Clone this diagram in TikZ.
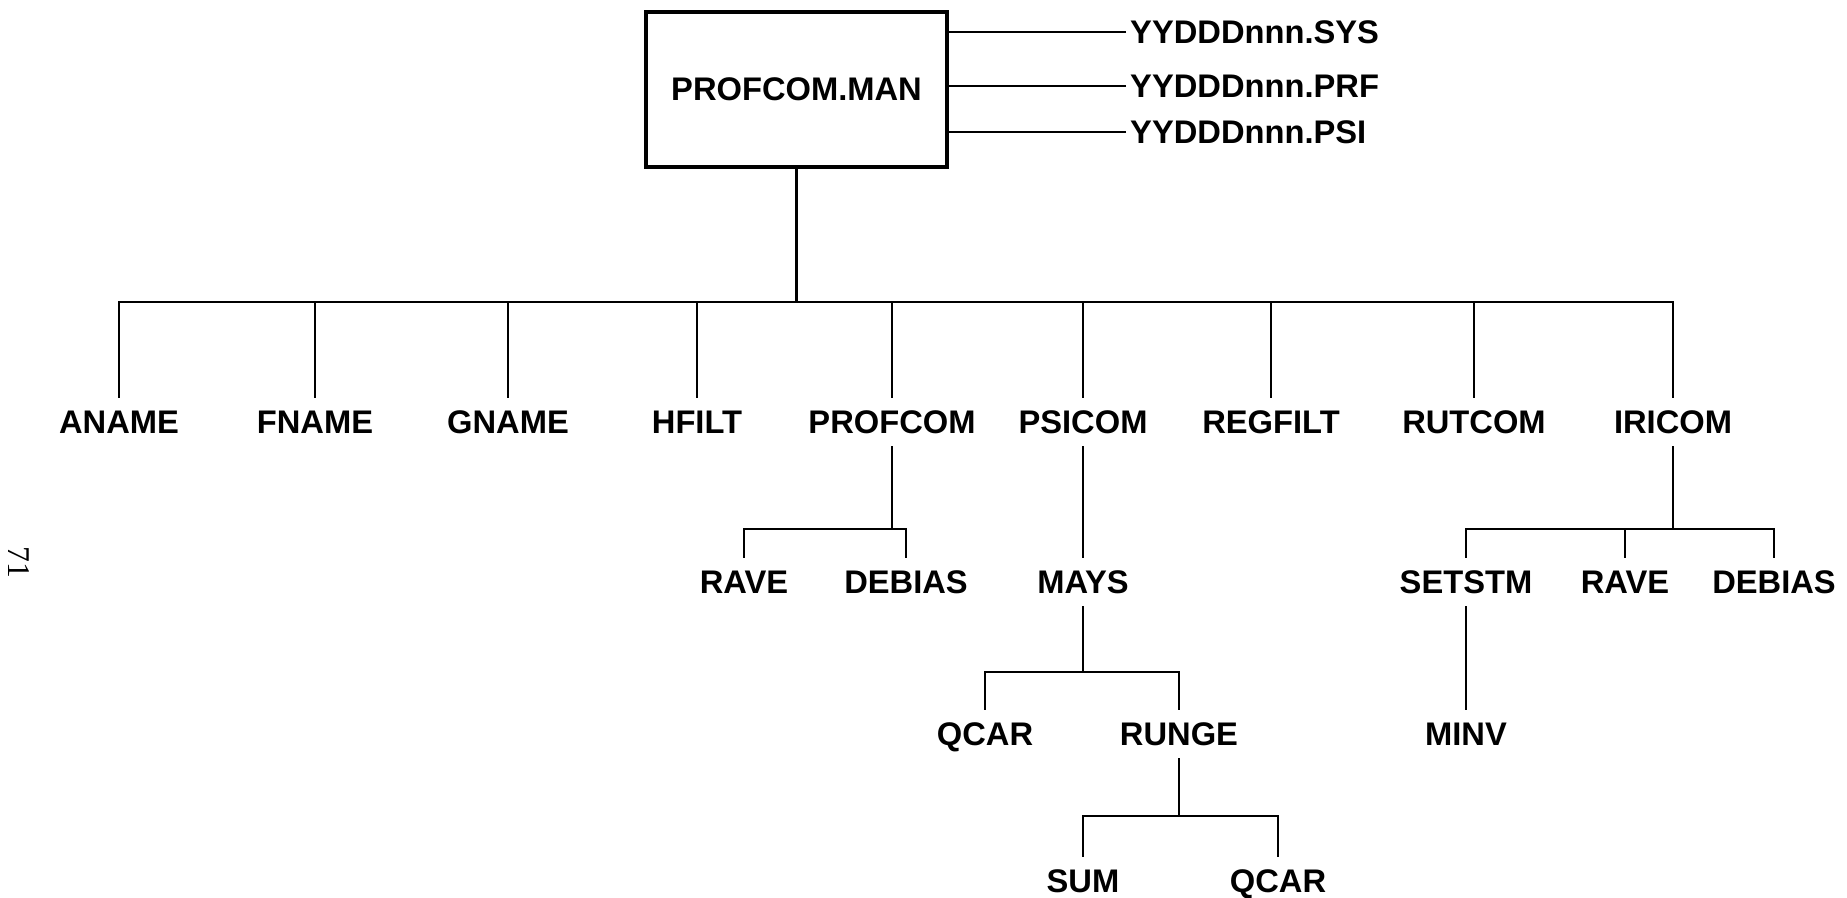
\documentclass[tikz,border=0pt]{standalone}
\usepackage{fontspec}
\setmainfont{Liberation Sans}
\newfontfamily\pagefont{Liberation Serif}

\begin{document}
\begin{tikzpicture}[
        every node/.style={font=\fontsize{9.3}{11}\selectfont\bfseries},
        module/.style={inner xsep=2pt, inner ysep=3.4pt, text height=6.7pt, text depth=0pt},
        mainbox/.style={rectangle, draw=black, line width=1.3pt, minimum width=3.01cm, minimum height=1.55cm},
        outfile/.style={anchor=west, inner sep=1pt},
        link/.style={draw=black, line width=0.8pt}
        ]

        % Page frame
        \useasboundingbox (0,0) rectangle (18.47,-8.98);

        % Main program and its output files
        \node[mainbox] (man) at (7.965,-0.895) {PROFCOM.MAN};
        \node[outfile] (sys) at (11.26,-0.32) {YYDDDnnn.SYS};
        \node[outfile] (prf) at (11.26,-0.86) {YYDDDnnn.PRF};
        \node[outfile] (psi) at (11.26,-1.32) {YYDDDnnn.PSI};

        % First level routines
        \node[module] (aname) at (1.19,-4.22) {ANAME};
        \node[module] (fname) at (3.15,-4.22) {FNAME};
        \node[module] (gname) at (5.08,-4.22) {GNAME};
        \node[module] (hfilt) at (6.97,-4.22) {HFILT};
        \node[module] (profcom) at (8.92,-4.22) {PROFCOM};
        \node[module] (psicom) at (10.83,-4.22) {PSICOM};
        \node[module] (regfilt) at (12.71,-4.22) {REGFILT};
        \node[module] (rutcom) at (14.74,-4.22) {RUTCOM};
        \node[module] (iricom) at (16.73,-4.22) {IRICOM};

        % Second level routines
        \node[module] (rave1) at (7.44,-5.82) {RAVE};
        \node[module] (debias1) at (9.06,-5.82) {DEBIAS};
        \node[module] (mays) at (10.83,-5.82) {MAYS};
        \node[module] (setstm) at (14.66,-5.82) {SETSTM};
        \node[module] (rave2) at (16.25,-5.82) {RAVE};
        \node[module] (debias2) at (17.74,-5.82) {DEBIAS};

        % Third and fourth level routines
        \node[module] (qcar1) at (9.85,-7.34) {QCAR};
        \node[module] (runge) at (11.79,-7.34) {RUNGE};
        \node[module] (minv) at (14.66,-7.34) {MINV};
        \node[module] (sum) at (10.83,-8.81) {SUM};
        \node[module] (qcar2) at (12.78,-8.81) {QCAR};

        % Page number
        \node[font=\fontsize{9}{10}\selectfont\pagefont, rotate=-90] (pagenum) at (0.19,-5.62) {71};

        % Branch points
        \coordinate (b1) at (7.965,-3.02);
        \coordinate (b2) at (8.92,-5.29);
        \coordinate (b3) at (16.73,-5.29);
        \coordinate (b4) at (10.83,-6.72);
        \coordinate (b5) at (11.79,-8.16);

        % Output file lines
        \draw[link] (sys.west) -- (sys.west -| man.east);
        \draw[link] (prf.west) -- (prf.west -| man.east);
        \draw[link] (psi.west) -- (psi.west -| man.east);

        % Main program to first level
        \draw[link] (man.south) -- (b1);
        \draw[link] (aname.north) |- (b1);
        \draw[link] (fname.north) |- (b1);
        \draw[link] (gname.north) |- (b1);
        \draw[link] (hfilt.north) |- (b1);
        \draw[link] (profcom.north) |- (b1);
        \draw[link] (psicom.north) |- (b1);
        \draw[link] (regfilt.north) |- (b1);
        \draw[link] (rutcom.north) |- (b1);
        \draw[link] (iricom.north) |- (b1);

        % PROFCOM children
        \draw[link] (profcom.south) -- (b2);
        \draw[link] (rave1.north) |- (b2);
        \draw[link] (debias1.north) |- (b2);

        % PSICOM children
        \draw[link] (psicom.south) -- (mays.north);
        \draw[link] (mays.south) -- (b4);
        \draw[link] (qcar1.north) |- (b4);
        \draw[link] (runge.north) |- (b4);
        \draw[link] (runge.south) -- (b5);
        \draw[link] (sum.north) |- (b5);
        \draw[link] (qcar2.north) |- (b5);

        % IRICOM children
        \draw[link] (iricom.south) -- (b3);
        \draw[link] (setstm.north) |- (b3);
        \draw[link] (rave2.north) |- (b3);
        \draw[link] (debias2.north) |- (b3);
        \draw[link] (setstm.south) -- (minv.north);

    \end{tikzpicture}
\end{document}
